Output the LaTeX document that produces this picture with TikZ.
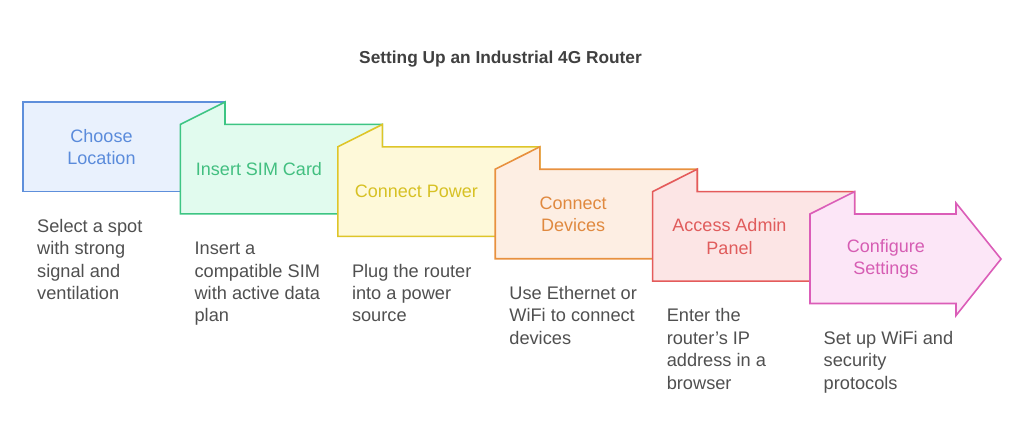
\documentclass[tikz,border=0pt]{standalone}
\usepackage{fontspec}
\setmainfont{Liberation Sans}
\definecolor{sA}{HTML}{5E8FDB}\definecolor{fA}{HTML}{E9F1FD}\definecolor{tA}{HTML}{5A8BDB}
\definecolor{sB}{HTML}{3DC583}\definecolor{fB}{HTML}{E1FBEE}\definecolor{tB}{HTML}{42BF80}
\definecolor{sC}{HTML}{DEC529}\definecolor{fC}{HTML}{FEF9D9}\definecolor{tC}{HTML}{D7C124}
\definecolor{sD}{HTML}{E8913F}\definecolor{fD}{HTML}{FDEEE3}\definecolor{tD}{HTML}{E0893F}
\definecolor{sE}{HTML}{E45B5B}\definecolor{fE}{HTML}{FCE5E5}\definecolor{tE}{HTML}{E05C5C}
\definecolor{sF}{HTML}{DB5DB8}\definecolor{fF}{HTML}{FCE6F7}\definecolor{tF}{HTML}{D65DB3}
\definecolor{desccol}{HTML}{505050}
\definecolor{titlecol}{HTML}{404040}
\begin{document}
\begin{tikzpicture}[x=1pt,y=-1pt,
  stepshape/.style={line width=1.6pt, line join=miter},
  lbl/.style={font=\fontsize{18}{22.4}\selectfont, align=center, inner sep=0pt, anchor=center},
  desc/.style={font=\fontsize{18.2}{22.4}\selectfont, align=left, inner sep=0pt, anchor=north west, text=desccol}]
\useasboundingbox (0,0) rectangle (1024,440);
\fill[white] (0,0) rectangle (1024,440);

\node[font=\bfseries\fontsize{17.3}{20}\selectfont, text=titlecol, anchor=base] (title) at (500.5,63) {Setting Up an Industrial 4G Router};

% step 1
\path[stepshape, draw=sA, fill=fA] (23,102) rectangle (225,191.5);
% step 2
\path[stepshape, draw=sB, fill=fB] (180.4,124.4) -- (225,102) -- (225,124.4) -- (382.4,124.4) -- (382.4,213.9) -- (180.4,213.9) -- cycle;
% step 3
\path[stepshape, draw=sC, fill=fC] (337.8,146.8) -- (382.4,124.4) -- (382.4,146.8) -- (539.8,146.8) -- (539.8,236.3) -- (337.8,236.3) -- cycle;
% step 4
\path[stepshape, draw=sD, fill=fD] (495.2,169.2) -- (539.8,146.8) -- (539.8,169.2) -- (697.2,169.2) -- (697.2,258.7) -- (495.2,258.7) -- cycle;
% step 5
\path[stepshape, draw=sE, fill=fE] (652.6,191.6) -- (697.2,169.2) -- (697.2,191.6) -- (854.6,191.6) -- (854.6,281.1) -- (652.6,281.1) -- cycle;
% step 6 (arrow)
\path[stepshape, draw=sF, fill=fF] (810,214) -- (854.6,191.6) -- (854.6,214) -- (956,214) -- (956,203) -- (1001,259) -- (956,315.5) -- (956,303.5) -- (810,303.5) -- cycle;

% labels
\node[lbl, text=tA] (l1) at (101.5,146.8) {Choose\\Location};
\node[lbl, text=tB] (l2) at (259,169.2) {Insert SIM Card};
\node[lbl, text=tC] (l3) at (416.3,191.6) {Connect Power};
\node[lbl, text=tD] (l4) at (573.2,214) {Connect\\Devices};
\node[lbl, text=tE] (l5) at (729.5,236.4) {Access Admin\\Panel};
\node[lbl, text=tF] (l6) at (885.8,258.8) {Configure\\Settings};

% descriptions
\node[desc] (d1) at (37,218.5) {\rule{0pt}{13.5pt}Select a spot\\with strong\\signal and\\ventilation};
\node[desc] (d2) at (194.4,240.9) {\rule{0pt}{13.5pt}Insert a\\compatible SIM\\with active data\\plan};
\node[desc] (d3) at (351.8,263.3) {\rule{0pt}{13.5pt}Plug the router\\into a power\\source};
\node[desc] (d4) at (509.2,285.7) {\rule{0pt}{13.5pt}Use Ethernet or\\WiFi to connect\\devices};
\node[desc] (d5) at (666.6,308.1) {\rule{0pt}{13.5pt}Enter the\\router\symbol{39}s IP\\address in a\\browser};
\node[desc] (d6) at (823.5,330.5) {\rule{0pt}{13.5pt}Set up WiFi and\\security\\protocols};
\end{tikzpicture}
\end{document}
